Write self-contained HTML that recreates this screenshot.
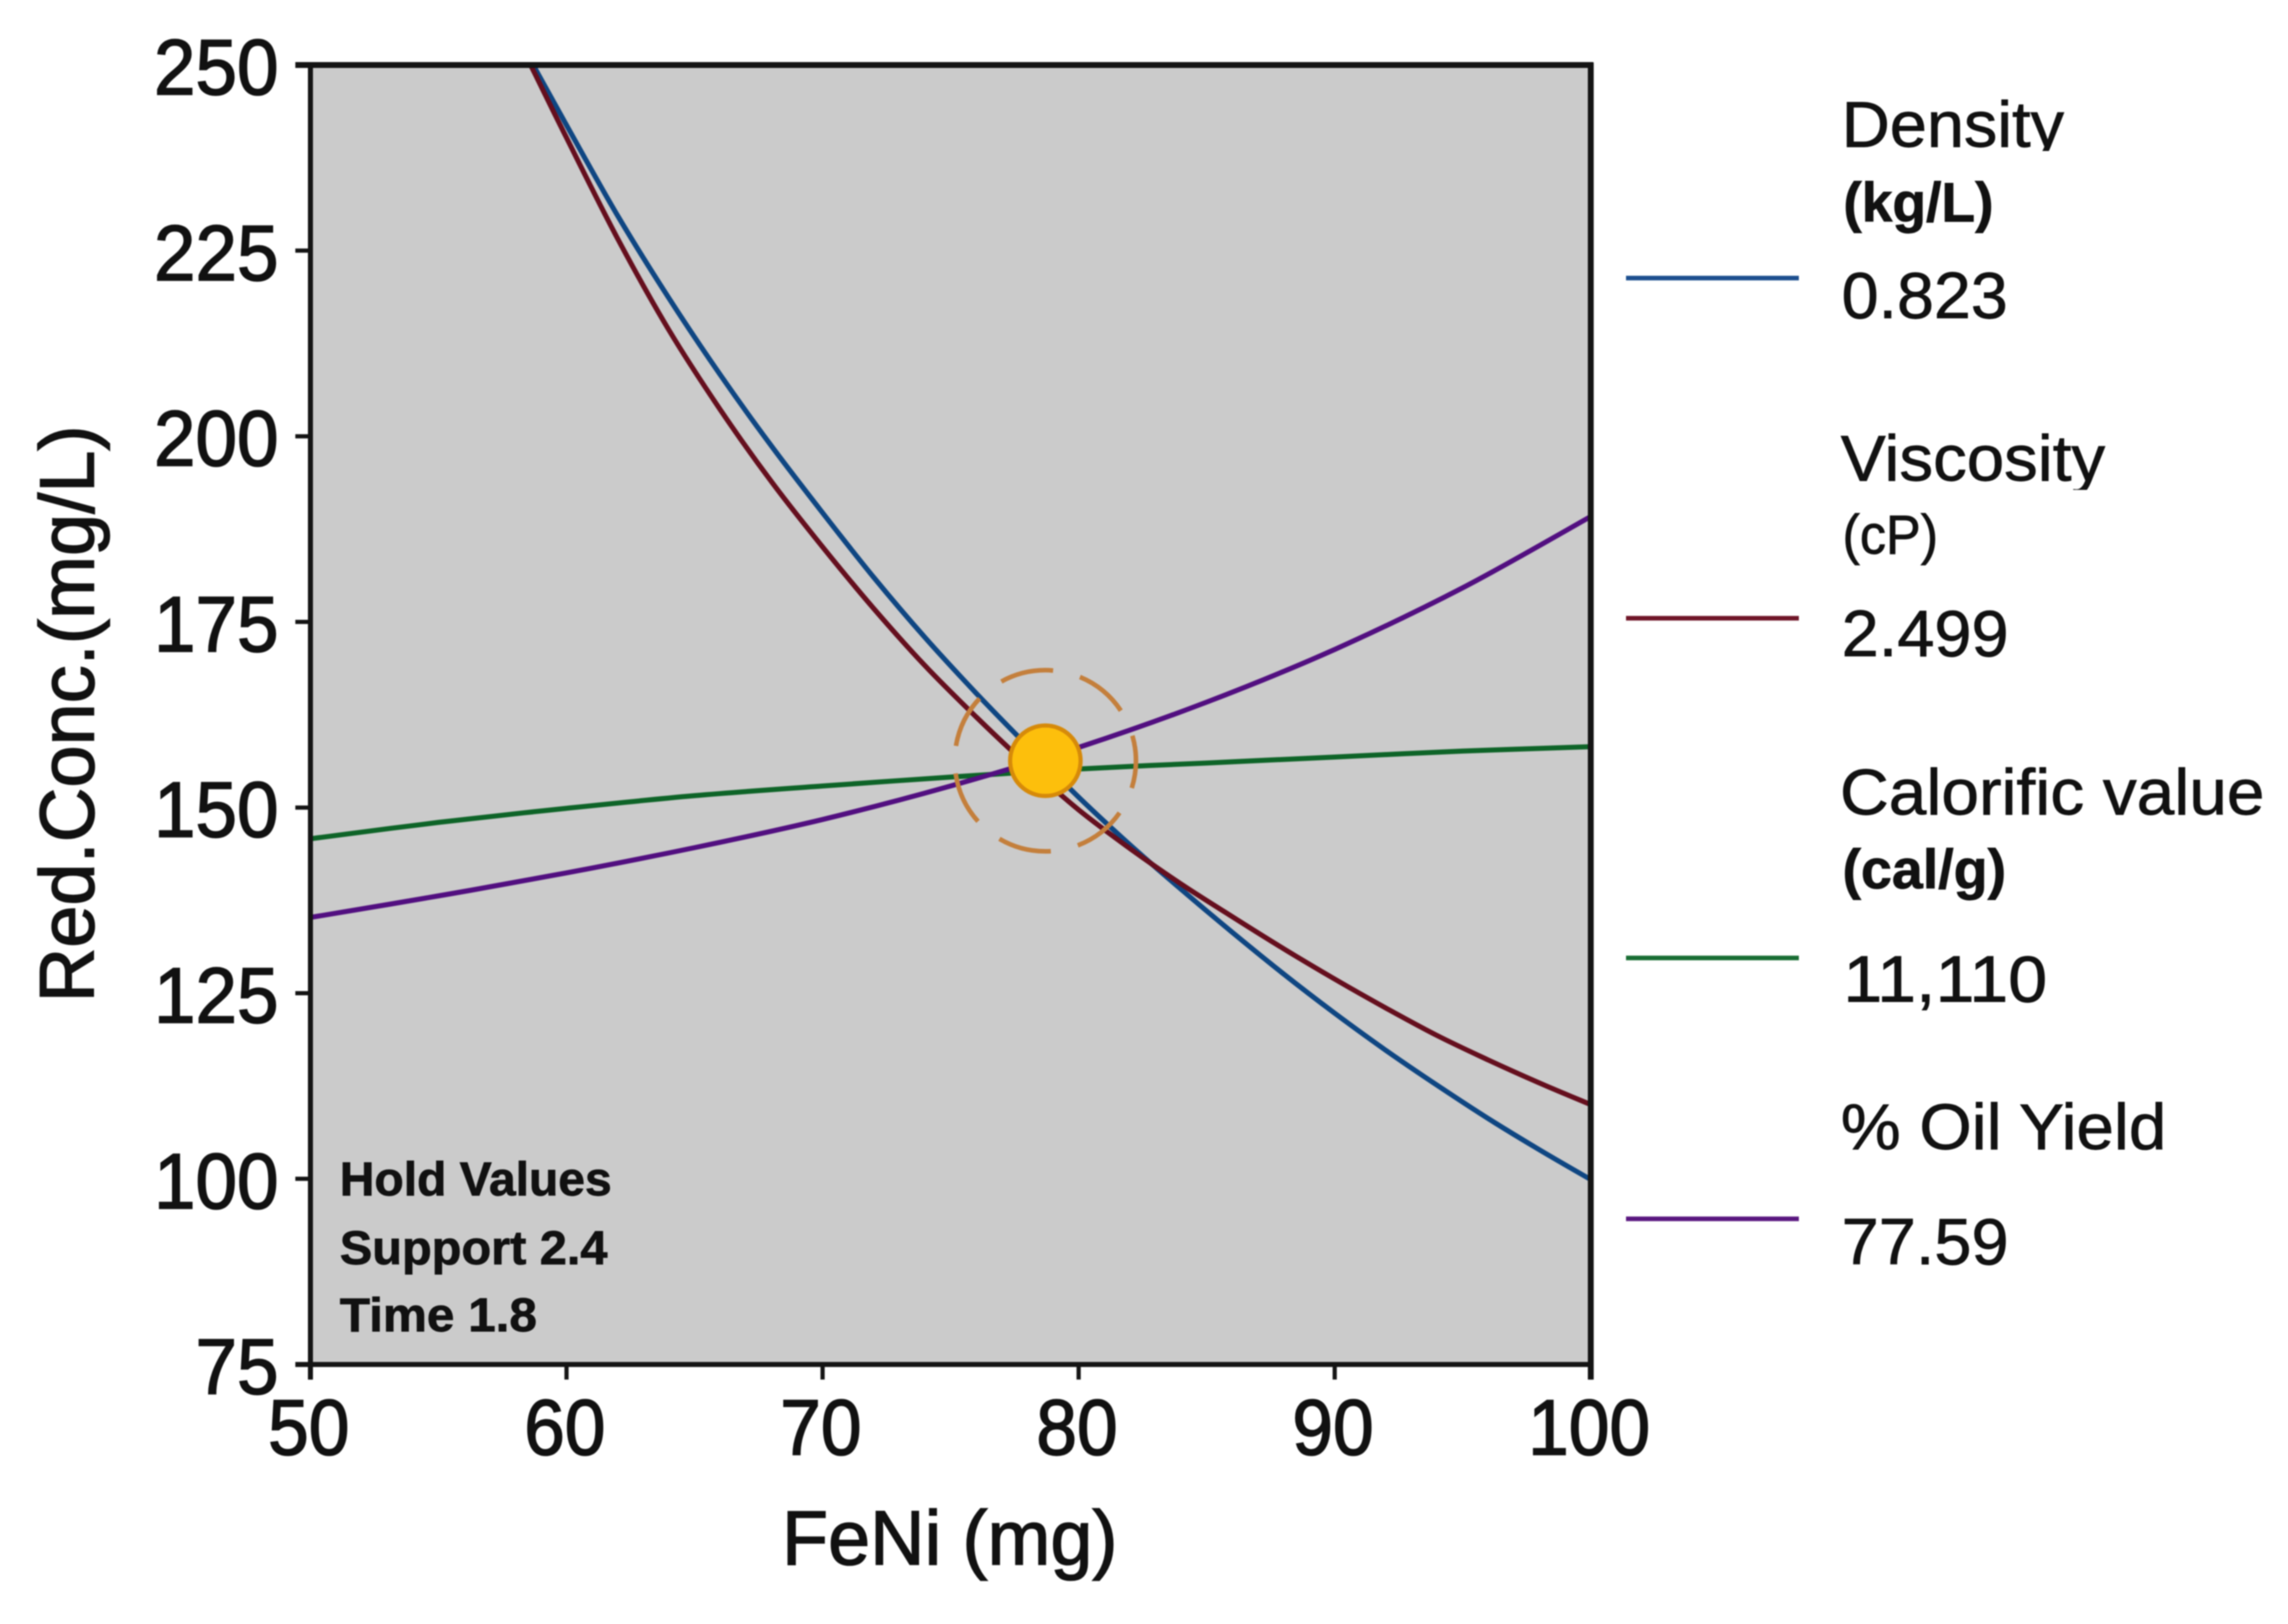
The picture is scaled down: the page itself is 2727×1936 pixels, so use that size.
<!DOCTYPE html>
<html lang="en">
<head>
<meta charset="utf-8">
<title>Overlaid contour plot of FeNi vs Red.Conc.</title>
<style>
html,body{margin:0;padding:0;background:#fff;width:2727px;height:1936px;overflow:hidden}
svg{display:block;filter:blur(0.9px)}
text{font-family:"Liberation Sans",sans-serif;fill:#111;stroke:#111;stroke-width:0.9px}
</style>
</head>
<body>
<svg id="chart" xmlns="http://www.w3.org/2000/svg" width="2727" height="1936" viewBox="0 0 2727 1936">
  <defs>
    <clipPath id="plot-clip"><rect x="370" y="77.5" width="1526" height="1549"/></clipPath>
    <clipPath id="density-clip"><rect x="2180" y="100" width="400" height="80"/></clipPath>
    <clipPath id="viscosity-clip"><rect x="2180" y="500" width="400" height="84"/></clipPath>
  </defs>
  <rect x="0" y="0" width="2727" height="1936" fill="#ffffff"/>
  <rect x="370" y="77.5" width="1526" height="1549" fill="#cbcbcb"/>
  <g id="series-layer" clip-path="url(#plot-clip)"></g>
  <g id="marker-layer"></g>
  <g id="axis-layer"></g>

  <g font-weight="700" font-size="57">
    <text x="405" y="1425" textLength="324" lengthAdjust="spacingAndGlyphs">Hold Values</text>
    <text x="405" y="1507" textLength="319" lengthAdjust="spacingAndGlyphs">Support 2.4</text>
    <text x="405" y="1587" textLength="235" lengthAdjust="spacingAndGlyphs">Time 1.8</text>
  </g>

  <text x="932" y="1865" font-size="92" textLength="400" lengthAdjust="spacingAndGlyphs" style="stroke-width:1.6px">FeNi (mg)</text>
  <text transform="translate(111.5,1195) rotate(-90)" x="0" y="0" font-size="92" textLength="688" lengthAdjust="spacingAndGlyphs" style="stroke-width:1.6px">Red.Conc.(mg/L)</text>

  <g>
    <g>
      <text x="2195" y="175" font-size="77" textLength="265" lengthAdjust="spacingAndGlyphs" clip-path="url(#density-clip)">Density</text>
      <text x="2197" y="264" font-size="66" font-weight="700" textLength="179" lengthAdjust="spacingAndGlyphs">(kg/L)</text>
      <line x1="1938" x2="2144" y1="331.5" y2="331.5" stroke="#1c4f8f" stroke-width="5.5"/>
      <text x="2195" y="379" font-size="78" textLength="198" lengthAdjust="spacingAndGlyphs">0.823</text>
    </g>
    <g>
      <text x="2194" y="573" font-size="77" textLength="315" lengthAdjust="spacingAndGlyphs" clip-path="url(#viscosity-clip)">Viscosity</text>
      <text x="2196" y="660" font-size="66" textLength="114" lengthAdjust="spacingAndGlyphs">(cP)</text>
      <line x1="1938" x2="2144" y1="737" y2="737" stroke="#701628" stroke-width="5.5"/>
      <text x="2195" y="782" font-size="78" textLength="199" lengthAdjust="spacingAndGlyphs">2.499</text>
    </g>
    <g>
      <text x="2193" y="971" font-size="77" textLength="506" lengthAdjust="spacingAndGlyphs">Calorific value</text>
      <text x="2196" y="1059" font-size="66" font-weight="700" textLength="195" lengthAdjust="spacingAndGlyphs">(cal/g)</text>
      <line x1="1938" x2="2144" y1="1142" y2="1142" stroke="#1a6e34" stroke-width="5.5"/>
      <text x="2197" y="1194" font-size="78" textLength="243" lengthAdjust="spacingAndGlyphs">11,110</text>
    </g>
    <g>
      <text x="2194" y="1370" font-size="77" textLength="388" lengthAdjust="spacingAndGlyphs">% Oil Yield</text>
      <line x1="1938" x2="2144" y1="1453" y2="1453" stroke="#5a1780" stroke-width="5.5"/>
      <text x="2195" y="1507" font-size="78" textLength="199" lengthAdjust="spacingAndGlyphs">77.59</text>
    </g>
  </g>
</svg>
<script>
const xTicks = [50, 60, 70, 80, 90, 100];
const yTicks = [75, 100, 125, 150, 175, 200, 225, 250];

const densityFeNi = [58.7, 60, 62, 64, 66, 68, 70, 72, 74, 76, 78, 80, 82, 84, 86, 88, 90, 92, 94, 96, 98, 100];
const densityConc = [250, 241.9, 229.7, 218.6, 208.3, 198.7, 189.7, 181, 172.9, 165.4, 158.3, 151.4, 145, 139, 133.2, 127.6, 122.3, 117.3, 112.6, 108.1, 103.9, 99.9];

const viscosityFeNi = [58.6, 60, 62, 64, 66, 68, 70, 72, 74, 76, 78, 80, 82, 84, 86, 88, 90, 92, 94, 96, 98, 100];
const viscosityConc = [250, 240.2, 226.6, 214.3, 203.6, 193.9, 185.1, 176.8, 169.1, 162.2, 155.7, 149.7, 144.5, 139.7, 135.3, 131, 126.9, 123, 119.3, 116, 112.9, 110];

const calorificFeNi = [50, 55, 60, 65, 70, 75, 80, 85, 90, 95, 100];
const calorificConc = [145.8, 148, 149.9, 151.6, 152.9, 154.1, 155.2, 156, 156.8, 157.6, 158.2];

const oilYieldFeNi = [50, 55, 60, 65, 70, 75, 80, 85, 90, 95, 100];
const oilYieldConc = [135.2, 138.1, 141.2, 144.6, 148.4, 152.9, 158.1, 164.2, 171.3, 179.6, 189.2];

const optimumFeNi = [78.7];
const optimumConc = [156.3];

const SVG_NS = 'http://www.w3.org/2000/svg';
const plotLeft = 370, plotRight = 1896, plotTop = 77.5, plotBottom = 1626.6;

function xScale(v) {
  return plotLeft + (v - xTicks[0]) / (xTicks[xTicks.length - 1] - xTicks[0]) * (plotRight - plotLeft);
}
function yScale(v) {
  return plotBottom - (v - yTicks[0]) / (yTicks[yTicks.length - 1] - yTicks[0]) * (plotBottom - plotTop);
}
function smoothPath(xs, ys) {
  const p = xs.map((x, i) => [xScale(x), yScale(ys[i])]);
  let d = 'M' + p[0][0].toFixed(1) + ' ' + p[0][1].toFixed(1);
  for (let i = 0; i < p.length - 1; i++) {
    const a = p[Math.max(i - 1, 0)], b = p[i], c = p[i + 1], e = p[Math.min(i + 2, p.length - 1)];
    const c1x = b[0] + (c[0] - a[0]) / 6, c1y = b[1] + (c[1] - a[1]) / 6;
    const c2x = c[0] - (e[0] - b[0]) / 6, c2y = c[1] - (e[1] - b[1]) / 6;
    d += ' C' + c1x.toFixed(1) + ' ' + c1y.toFixed(1) + ' ' + c2x.toFixed(1) + ' ' + c2y.toFixed(1) + ' ' + c[0].toFixed(1) + ' ' + c[1].toFixed(1);
  }
  return d;
}
function drawSeries(xs, ys, color, name) {
  const path = document.createElementNS(SVG_NS, 'path');
  
  
  path.setAttribute('d', smoothPath(xs, ys));
  path.setAttribute('fill', 'none');
  path.setAttribute('stroke', color);
  path.setAttribute('stroke-width', '6');
  document.getElementById('series-layer').appendChild(path);
}
drawSeries(densityFeNi, densityConc, '#0f4682', 'density-contour');
drawSeries(viscosityFeNi, viscosityConc, '#650f1e', 'viscosity-contour');
drawSeries(calorificFeNi, calorificConc, '#0e6428', 'calorific-value-contour');
drawSeries(oilYieldFeNi, oilYieldConc, '#520f80', 'oil-yield-contour');

const markerLayer = document.getElementById('marker-layer');
const dashRing = document.createElementNS(SVG_NS, 'circle');


dashRing.setAttribute('cx', xScale(optimumFeNi[0]));
dashRing.setAttribute('cy', yScale(optimumConc[0]));
dashRing.setAttribute('r', '108');
dashRing.setAttribute('fill', 'none');
dashRing.setAttribute('stroke', '#c47f3c');
dashRing.setAttribute('stroke-width', '5.5');
dashRing.setAttribute('stroke-dasharray', '64 33');
dashRing.setAttribute('stroke-dashoffset', '-66');
markerLayer.appendChild(dashRing);
const dot = document.createElementNS(SVG_NS, 'circle');


dot.setAttribute('cx', xScale(optimumFeNi[0]));
dot.setAttribute('cy', yScale(optimumConc[0]));
dot.setAttribute('r', '42');
dot.setAttribute('fill', '#fdbf0c');
dot.setAttribute('stroke', '#d68a0a');
dot.setAttribute('stroke-width', '5');
markerLayer.appendChild(dot);

const axisLayer = document.getElementById('axis-layer');
function addLine(x1, y1, x2, y2, w, name) {
  const l = document.createElementNS(SVG_NS, 'line');
  
  
  l.setAttribute('x1', x1);
  l.setAttribute('y1', y1);
  l.setAttribute('x2', x2);
  l.setAttribute('y2', y2);
  l.setAttribute('stroke', '#141414');
  l.setAttribute('stroke-width', w);
  axisLayer.appendChild(l);
}
addLine(plotLeft - 18, plotTop, plotRight + 3, plotTop, 7, 'plot-top-border');
addLine(plotLeft, plotTop, plotLeft, plotBottom + 18, 6, 'y-axis-line');
addLine(plotLeft - 18, plotBottom, plotRight + 3, plotBottom, 6, 'x-axis-line');
addLine(plotRight, plotTop - 3, plotRight, plotBottom + 18, 7, 'plot-right-border');

xTicks.forEach(function (v) {
  addLine(xScale(v), plotBottom, xScale(v), plotBottom + 18, 5, 'x-tick-' + v);
  const t = document.createElementNS(SVG_NS, 'text');
  
  
  t.setAttribute('x', xScale(v) - 2);
  t.setAttribute('y', 1734);
  t.setAttribute('font-size', '94');
  t.setAttribute('text-anchor', 'middle');
  t.setAttribute('textLength', String(v).length * 48.5);
  t.setAttribute('lengthAdjust', 'spacingAndGlyphs');
  t.style.strokeWidth = '1.8px';
  t.textContent = v;
  axisLayer.appendChild(t);
});
yTicks.forEach(function (v) {
  addLine(plotLeft - 18, yScale(v), plotLeft, yScale(v), 5, 'y-tick-' + v);
  const t = document.createElementNS(SVG_NS, 'text');
  
  
  t.setAttribute('x', 332);
  t.setAttribute('y', yScale(v) + 35);
  t.setAttribute('font-size', '94');
  t.setAttribute('text-anchor', 'end');
  t.setAttribute('textLength', String(v).length * 49.5);
  t.setAttribute('lengthAdjust', 'spacingAndGlyphs');
  t.style.strokeWidth = '1.8px';
  t.textContent = v;
  axisLayer.appendChild(t);
});
</script>
</body>
</html>
